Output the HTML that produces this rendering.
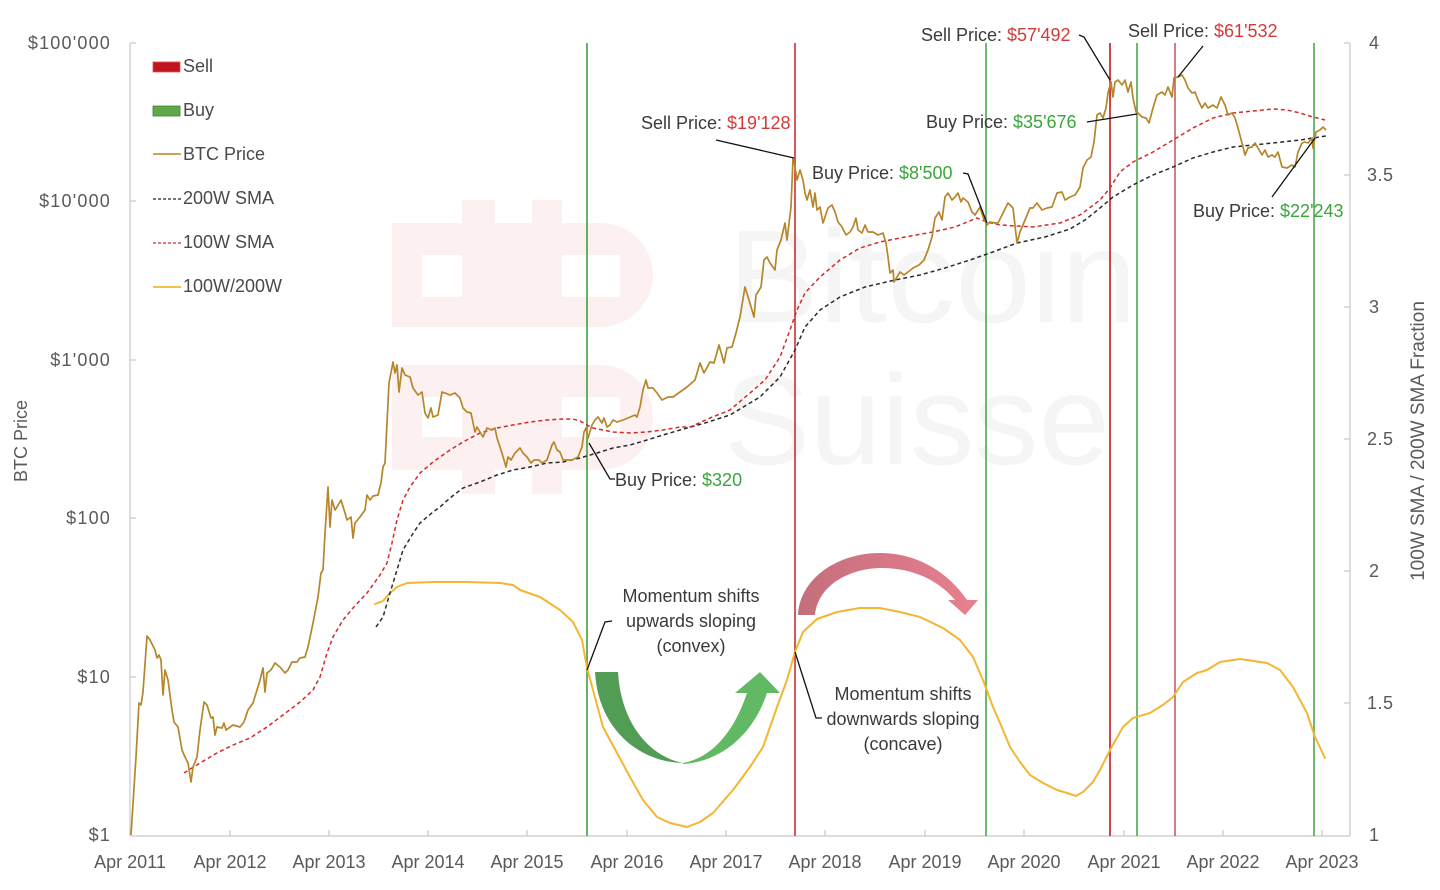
<!DOCTYPE html>
<html>
<head>
<meta charset="utf-8">
<style>
html,body{margin:0;padding:0;background:#fff;}
svg{display:block;}
text{font-family:"Liberation Sans",Arial,sans-serif;}
</style>
</head>
<body>
<svg width="1440" height="890" viewBox="0 0 1440 890" xmlns="http://www.w3.org/2000/svg">
<defs>
<linearGradient id="rg" x1="0" y1="0" x2="1" y2="0">
<stop offset="0" stop-color="#c46e7c"/>
<stop offset="1" stop-color="#e8808f"/>
</linearGradient>
</defs>
<rect width="1440" height="890" fill="#fff"/>

<!-- watermark logo -->
<g fill="#fcf0f1">
<rect x="462" y="200" width="33" height="25"/>
<rect x="532" y="200" width="30" height="25"/>
<path d="M392,223 H600 A53,52 0 0 1 653,275 A53,52 0 0 1 600,327 H392 Z"/>
<path d="M392,365 H600 A53,52 0 0 1 653,417 A53,52 0 0 1 600,470 H392 Z"/>
<rect x="462" y="470" width="33" height="24"/>
<rect x="532" y="470" width="30" height="24"/>
</g>
<g fill="#fff">
<rect x="422" y="255" width="40" height="42"/>
<rect x="562" y="255" width="58" height="42"/>
<rect x="422" y="397" width="40" height="40"/>
<rect x="562" y="397" width="58" height="40"/>
</g>
<text x="728" y="322" font-size="132" fill="#f5f5f5" textLength="409" lengthAdjust="spacingAndGlyphs">Bitcoin</text>
<text x="724" y="464" font-size="128" fill="#f5f5f5" textLength="386" lengthAdjust="spacingAndGlyphs">Suisse</text>

<!-- axes -->
<g stroke="#c8c8c8" stroke-width="1.2" fill="none">
<line x1="130" y1="43" x2="130" y2="836"/>
<line x1="1350" y1="43" x2="1350" y2="836"/>
<line x1="130" y1="836" x2="1350" y2="836"/>
<line x1="130" y1="43" x2="136" y2="43"/>
<line x1="130" y1="201" x2="136" y2="201"/>
<line x1="130" y1="360" x2="136" y2="360"/>
<line x1="130" y1="518" x2="136" y2="518"/>
<line x1="130" y1="677" x2="136" y2="677"/>
<line x1="1344" y1="43" x2="1350" y2="43"/>
<line x1="1344" y1="175" x2="1350" y2="175"/>
<line x1="1344" y1="307" x2="1350" y2="307"/>
<line x1="1344" y1="439" x2="1350" y2="439"/>
<line x1="1344" y1="571" x2="1350" y2="571"/>
<line x1="1344" y1="703" x2="1350" y2="703"/>
<line x1="230" y1="830" x2="230" y2="836"/>
<line x1="329" y1="830" x2="329" y2="836"/>
<line x1="428" y1="830" x2="428" y2="836"/>
<line x1="527" y1="830" x2="527" y2="836"/>
<line x1="627" y1="830" x2="627" y2="836"/>
<line x1="726" y1="830" x2="726" y2="836"/>
<line x1="825" y1="830" x2="825" y2="836"/>
<line x1="925" y1="830" x2="925" y2="836"/>
<line x1="1024" y1="830" x2="1024" y2="836"/>
<line x1="1124" y1="830" x2="1124" y2="836"/>
<line x1="1223" y1="830" x2="1223" y2="836"/>
<line x1="1322" y1="830" x2="1322" y2="836"/>
</g>

<!-- left labels -->
<g font-size="18" fill="#5a5a5a" text-anchor="end" letter-spacing="1.2">
<text x="111" y="49">$100'000</text>
<text x="111" y="207">$10'000</text>
<text x="111" y="366">$1'000</text>
<text x="111" y="524">$100</text>
<text x="111" y="683">$10</text>
<text x="111" y="841">$1</text>
</g>
<!-- right labels -->
<g font-size="18" fill="#5a5a5a" letter-spacing="0.5">
<text x="1369" y="49">4</text>
<text x="1367" y="181">3.5</text>
<text x="1369" y="313">3</text>
<text x="1367" y="445">2.5</text>
<text x="1369" y="577">2</text>
<text x="1367" y="709">1.5</text>
<text x="1369" y="841">1</text>
</g>
<!-- x labels -->
<g font-size="18" fill="#5a5a5a" text-anchor="middle">
<text x="130" y="868">Apr 2011</text>
<text x="230" y="868">Apr 2012</text>
<text x="329" y="868">Apr 2013</text>
<text x="428" y="868">Apr 2014</text>
<text x="527" y="868">Apr 2015</text>
<text x="627" y="868">Apr 2016</text>
<text x="726" y="868">Apr 2017</text>
<text x="825" y="868">Apr 2018</text>
<text x="925" y="868">Apr 2019</text>
<text x="1024" y="868">Apr 2020</text>
<text x="1124" y="868">Apr 2021</text>
<text x="1223" y="868">Apr 2022</text>
<text x="1322" y="868">Apr 2023</text>
</g>
<!-- axis titles -->
<text transform="translate(27,441) rotate(-90)" font-size="18" fill="#5a5a5a" text-anchor="middle">BTC Price</text>
<text transform="translate(1424,441) rotate(-90)" font-size="19" fill="#5a5a5a" text-anchor="middle">100W SMA / 200W SMA Fraction</text>

<!-- vertical signal lines -->
<g stroke-width="1.6">
<line x1="587" y1="43" x2="587" y2="836" stroke="#3f9e3f"/>
<line x1="795" y1="43" x2="795" y2="836" stroke="#c9302f"/>
<line x1="986" y1="43" x2="986" y2="836" stroke="#4aa84a"/>
<line x1="1110" y1="43" x2="1110" y2="836" stroke="#c8141e"/>
<line x1="1137" y1="43" x2="1137" y2="836" stroke="#4aa84a"/>
<line x1="1175" y1="43" x2="1175" y2="836" stroke="#c25f6a"/>
<line x1="1314" y1="43" x2="1314" y2="836" stroke="#4aa84a"/>
</g>

<!-- arrows -->
<path d="M595,672 L618,672 C621,722 648,756 683,763 C638,762 598,728 595,672 Z" fill="#529d55"/>
<path d="M683,764 C718,762 752,738 767,693 L780,693 L760,672 L735,693 L747,693 C733,735 710,758 683,763 Z" fill="#62b964"/>
<path d="M798,615 C800,578 838,553 880,553 C920,553 950,575 967,600 L978,600 L965,615 L948,600 L955,600 C940,582 915,568 882,568 C850,568 818,585 815,615 Z" fill="url(#rg)"/>

<!-- 100W/200W ratio -->
<polyline fill="none" stroke="#f2b632" stroke-width="2" stroke-linejoin="round" stroke-linecap="round" points="375,604 383,601 390,593 397,587 407,583 433,582 467,582 500,583 513,585 520,590 540,597 560,610 573,622 582,640 587,668 593,690 603,727 617,753 630,777 643,800 657,817 670,823 687,827 700,822 713,813 733,790 750,767 763,747 777,707 787,680 795,652 803,632 817,619 837,612 860,608 880,608 900,612 920,617 943,628 960,640 973,657 983,680 993,707 1003,730 1010,747 1020,762 1030,775 1043,783 1057,790 1067,793 1076,796 1083,792 1093,782 1100,770 1110,750 1123,727 1133,718 1150,713 1163,705 1173,697 1183,682 1197,673 1207,670 1220,662 1240,659 1267,663 1280,670 1293,687 1307,713 1315,737 1325,758"/>

<!-- 200W SMA -->
<polyline fill="none" stroke="#2a2a2a" stroke-width="1.5" stroke-dasharray="4,3" points="376,627 383,617 390,593 397,570 403,550 412,535 420,523 433,512 440,507 450,498 463,488 480,482 497,475 513,470 530,467 547,463 563,462 580,458 597,453 613,448 630,445 647,440 663,435 680,430 705,423 730,415 760,397 780,377 795,350 805,327 820,310 840,297 865,287 895,280 920,275 945,268 970,260 990,253 1017,243 1045,237 1070,229 1085,220 1100,208 1113,197 1133,185 1153,175 1173,167 1193,158 1213,152 1233,147 1253,145 1273,143 1300,140 1326,136"/>

<!-- 100W SMA -->
<polyline fill="none" stroke="#d42a2a" stroke-width="1.5" stroke-dasharray="4,3" points="184,773 200,763 217,753 233,745 250,738 267,727 283,715 300,702 313,690 320,677 327,653 333,637 343,620 353,608 367,593 380,575 387,563 392,543 397,520 403,500 410,487 420,473 433,462 450,450 463,442 480,433 497,428 513,425 530,422 547,420 563,419 573,419 580,421 587,425 593,428 603,430 613,432 630,433 647,432 663,430 680,427 690,427 710,418 730,410 750,393 765,380 780,357 790,330 797,310 805,293 820,277 840,260 860,248 880,242 905,237 933,232 955,227 967,222 977,218 987,222 1000,225 1033,227 1060,223 1080,215 1100,200 1110,188 1120,172 1133,162 1153,152 1173,140 1193,128 1213,118 1233,113 1253,111 1273,109 1287,110 1300,113 1313,117 1325,120"/>

<!-- BTC price -->
<polyline fill="none" stroke="#b5862a" stroke-width="1.7" stroke-linejoin="round" points="131,835 136,757 139,703 141,705 143,692 147,636 150,640 155,650 157,658 159,655 161,660 163,695 165,670 168,680 172,710 174,722 178,727 182,750 185,757 188,763 191,782 193,767 197,757 200,730 204,702 207,705 211,718 213,717 215,735 217,727 222,728 224,723 226,730 233,725 240,727 244,722 248,710 253,703 257,690 260,680 263,668 265,692 267,673 271,670 275,663 280,667 285,673 288,670 292,662 297,662 300,658 305,657 308,647 313,623 318,597 321,573 323,570 325,533 328,487 330,527 332,500 335,510 337,507 341,500 345,513 347,520 351,517 353,538 355,523 360,517 365,510 367,495 370,500 373,496 378,495 381,483 383,467 385,463 387,423 389,383 393,362 395,373 397,365 399,392 402,368 405,375 410,377 413,388 418,395 422,392 425,413 428,418 431,408 433,417 438,415 442,392 445,393 450,395 455,393 460,398 463,408 467,412 471,413 475,432 477,427 480,432 483,437 487,428 492,430 495,428 497,438 501,450 504,460 506,467 508,457 511,460 515,453 520,448 523,453 527,457 531,463 534,460 539,460 542,463 547,460 552,445 554,442 557,450 560,452 563,460 568,460 572,460 578,457 582,447 584,432 586,428 588,438 592,425 595,420 598,417 602,423 604,418 607,427 610,425 613,420 617,422 623,420 628,418 635,415 637,417 640,407 643,390 646,380 648,388 653,388 657,393 662,400 668,397 673,397 680,392 687,387 695,380 700,363 704,373 710,362 714,363 719,345 724,363 727,348 732,347 736,333 740,317 745,287 749,300 754,317 756,295 761,287 764,260 767,257 770,263 775,270 777,250 781,240 785,223 787,240 791,207 793,158 795,167 797,180 800,170 803,180 805,193 807,200 810,190 813,207 815,193 817,210 820,207 823,223 825,217 828,208 832,205 835,212 838,222 842,227 846,235 850,232 853,227 856,218 858,230 862,233 865,225 868,232 873,232 878,235 883,233 886,243 888,257 890,273 893,270 894,282 897,277 900,272 904,275 908,272 913,268 919,265 924,260 928,250 932,237 935,218 939,212 942,220 945,197 948,193 952,200 955,197 958,193 961,202 963,198 968,202 972,212 975,215 980,207 983,217 987,225 990,222 995,223 998,223 1003,213 1008,203 1013,208 1017,243 1020,232 1025,220 1030,208 1033,208 1037,203 1042,210 1047,208 1052,207 1057,193 1062,192 1065,200 1070,197 1075,195 1080,187 1083,168 1087,160 1091,157 1094,142 1097,115 1100,113 1103,118 1106,108 1108,93 1111,82 1113,97 1115,82 1118,80 1122,85 1125,80 1128,92 1131,82 1133,98 1136,112 1138,113 1142,117 1146,118 1149,123 1153,108 1157,95 1162,92 1165,95 1168,87 1172,97 1174,78 1178,77 1182,75 1185,80 1188,88 1192,93 1195,92 1198,100 1202,108 1205,103 1208,108 1213,105 1217,108 1221,97 1225,105 1228,115 1232,113 1235,118 1238,128 1242,143 1245,155 1248,148 1252,147 1255,143 1258,148 1262,155 1265,150 1268,157 1272,155 1275,157 1278,152 1282,167 1287,168 1292,165 1295,167 1298,152 1302,143 1305,142 1308,143 1312,138 1313,148 1316,132 1320,130 1323,127 1326,130"/>

<!-- annotation leader lines -->
<g stroke="#111" stroke-width="1.3" fill="none">
<polyline points="589,443 610,479 615,479"/>
<polyline points="716,140 794,158"/>
<polyline points="963,173 968,174 987,223"/>
<polyline points="1079,35 1084,37 1110,80"/>
<polyline points="1087,122 1137,114"/>
<polyline points="1203,46 1178,77"/>
<polyline points="1272,197 1315,138"/>
<polyline points="587,670 605,622 612,621"/>
<polyline points="795,652 816,718 822,718"/>
</g>

<!-- annotation texts -->
<g font-size="18" fill="#3a3a3a">
<text x="615" y="486">Buy Price: <tspan fill="#3aa63a">$320</tspan></text>
<text x="641" y="129">Sell Price: <tspan fill="#d23a3a">$19'128</tspan></text>
<text x="812" y="179">Buy Price: <tspan fill="#3aa63a">$8'500</tspan></text>
<text x="921" y="41">Sell Price: <tspan fill="#d23a3a">$57'492</tspan></text>
<text x="926" y="128">Buy Price: <tspan fill="#3aa63a">$35'676</tspan></text>
<text x="1128" y="37">Sell Price: <tspan fill="#d23a3a">$61'532</tspan></text>
<text x="1193" y="217">Buy Price: <tspan fill="#3aa63a">$22'243</tspan></text>
</g>
<g font-size="18" fill="#3a3a3a" text-anchor="middle">
<text x="691" y="602">Momentum shifts</text>
<text x="691" y="627">upwards sloping</text>
<text x="691" y="652">(convex)</text>
<text x="903" y="700">Momentum shifts</text>
<text x="903" y="725">downwards sloping</text>
<text x="903" y="750">(concave)</text>
</g>

<!-- legend -->
<rect x="153" y="62" width="27" height="10" fill="#c0141e" stroke="#e05060" stroke-width="0.8"/>
<rect x="153" y="106" width="27" height="10" fill="#62a84a" stroke="#2e8b2e" stroke-width="0.8"/>
<line x1="153" y1="154" x2="181" y2="154" stroke="#b5862a" stroke-width="1.6"/>
<line x1="153" y1="199" x2="181" y2="199" stroke="#222" stroke-width="1.3" stroke-dasharray="3,2"/>
<line x1="153" y1="243" x2="181" y2="243" stroke="#d42a2a" stroke-width="1.3" stroke-dasharray="3,2"/>
<line x1="153" y1="287" x2="181" y2="287" stroke="#f2b632" stroke-width="1.8"/>
<g font-size="18" fill="#4a4a4a">
<text x="183" y="72">Sell</text>
<text x="183" y="116">Buy</text>
<text x="183" y="160">BTC Price</text>
<text x="183" y="204">200W SMA</text>
<text x="183" y="248">100W SMA</text>
<text x="183" y="292">100W/200W</text>
</g>
</svg>
</body>
</html>
